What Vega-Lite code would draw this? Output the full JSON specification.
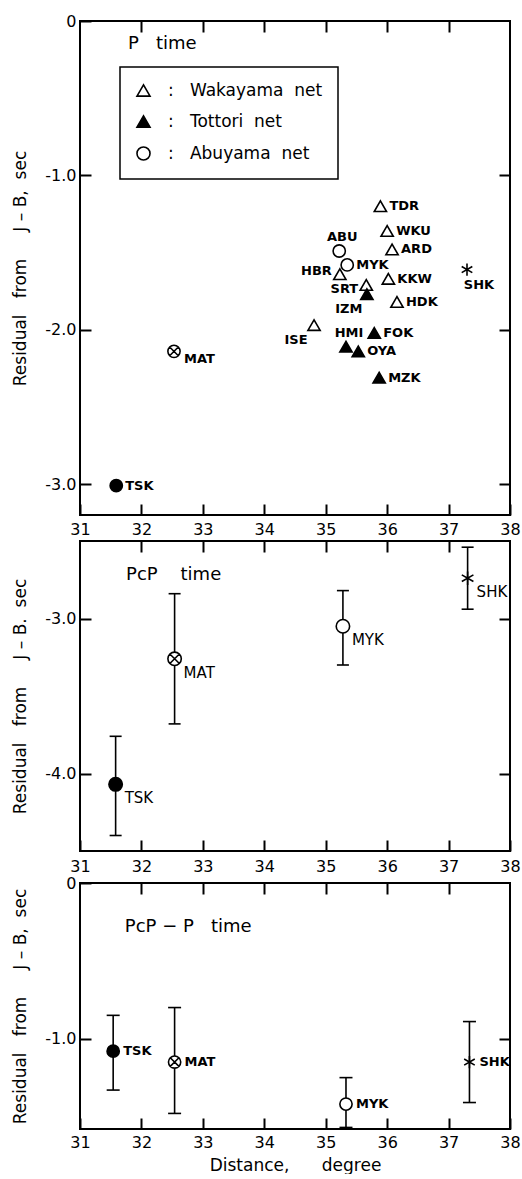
{
  "$schema": "https://vega.github.io/schema/vega-lite/v6.json",
  "padding": {"left": 9, "top": 12, "right": 0, "bottom": 0},
  "bounds": "flush",
  "spacing": 26,
  "resolve": {"scale": {"x": "independent", "y": "independent", "shape": "independent", "fill": "independent"}},
  "datasets": {
    "p": [
      {"station": "TDR", "group": "Wakayama net", "dist": 35.89, "res": -1.20},
      {"station": "WKU", "group": "Wakayama net", "dist": 36.00, "res": -1.36},
      {"station": "ARD", "group": "Wakayama net", "dist": 36.08, "res": -1.48},
      {"station": "KKW", "group": "Wakayama net", "dist": 36.02, "res": -1.67},
      {"station": "HDK", "group": "Wakayama net", "dist": 36.16, "res": -1.82},
      {"station": "HBR", "group": "Wakayama net", "dist": 35.23, "res": -1.64},
      {"station": "SRT", "group": "Wakayama net", "dist": 35.66, "res": -1.71},
      {"station": "ISE", "group": "Wakayama net", "dist": 34.81, "res": -1.97},
      {"station": "IZM", "group": "Tottori net", "dist": 35.67, "res": -1.77},
      {"station": "FOK", "group": "Tottori net", "dist": 35.79, "res": -2.02},
      {"station": "HMI", "group": "Tottori net", "dist": 35.33, "res": -2.11},
      {"station": "OYA", "group": "Tottori net", "dist": 35.53, "res": -2.14},
      {"station": "MZK", "group": "Tottori net", "dist": 35.87, "res": -2.31},
      {"station": "ABU", "group": "Abuyama net", "dist": 35.22, "res": -1.49},
      {"station": "MYK", "group": "Abuyama net", "dist": 35.35, "res": -1.58},
      {"station": "SHK", "group": "SHK", "dist": 37.30, "res": -1.61},
      {"station": "MAT", "group": "MAT", "dist": 32.53, "res": -2.14},
      {"station": "TSK", "group": "TSK", "dist": 31.59, "res": -3.01}
    ],
    "pcp": [
      {"station": "TSK", "group": "TSK", "dist": 31.58, "res": -4.07, "hi": -3.76, "lo": -4.40},
      {"station": "MAT", "group": "MAT", "dist": 32.54, "res": -3.26, "hi": -2.84, "lo": -3.68},
      {"station": "MYK", "group": "Abuyama net", "dist": 35.28, "res": -3.05, "hi": -2.82, "lo": -3.30},
      {"station": "SHK", "group": "SHK", "dist": 37.31, "res": -2.74, "hi": -2.54, "lo": -2.94}
    ],
    "pcpp": [
      {"station": "TSK", "group": "TSK", "dist": 31.54, "res": -1.08, "hi": -0.85, "lo": -1.33},
      {"station": "MAT", "group": "MAT", "dist": 32.54, "res": -1.15, "hi": -0.80, "lo": -1.48},
      {"station": "MYK", "group": "Abuyama net", "dist": 35.33, "res": -1.42, "hi": -1.25, "lo": -1.57},
      {"station": "SHK", "group": "SHK", "dist": 37.34, "res": -1.15, "hi": -0.89, "lo": -1.41}
    ]
  },
  "vconcat": [
    {
      "width": 430,
      "height": 494,
      "data": {"name": "p"},
      "resolve": {"axis": {"x": "independent", "y": "independent"}},
      "encoding": {
        "x": {"field": "dist", "type": "quantitative", "scale": {"domain": [31, 38], "nice": false}, "axis": null},
        "y": {"field": "res", "type": "quantitative", "scale": {"domain": [-3.2, 0], "nice": false}, "axis": null}
      },
      "layer": [
        {
          "mark": {"type": "point", "size": 150, "stroke": "black", "strokeWidth": 1.6, "opacity": 1},
          "encoding": {
            "x": {"field": "dist", "type": "quantitative", "scale": {"domain": [31, 38], "nice": false},
              "axis": {"orient": "bottom", "values": [31, 32, 33, 34, 35, 36, 37, 38], "title": null, "format": "d", "labelPadding": 6}},
            "y": {"field": "res", "type": "quantitative", "scale": {"domain": [-3.2, 0], "nice": false},
              "axis": {"orient": "left", "values": [0, -1, -2, -3], "labelExpr": "datum.value == 0 ? '0' : '-' + format(-datum.value, '.1f')",
                "encode": {"labels": {"update": {"dx": {"signal": "datum.value == 0 ? -6 : 0"}}}},
                "title": "Residual\u00a0\u00a0\u00a0from\u00a0\u00a0\u00a0\u00a0\u00a0J\u00a0–\u00a0B,\u00a0\u00a0sec", "titleX": -71, "titleBaseline": "middle"}},
            "shape": {"field": "group", "type": "nominal",
              "scale": {"domain": ["Wakayama net", "Tottori net", "Abuyama net", "MAT", "TSK", "SHK"],
                "range": ["triangle-up", "triangle-up", "circle", "M1,0A1,1,0,1,1,-1,0A1,1,0,1,1,1,0M-0.707,-0.707L0.707,0.707M-0.707,0.707L0.707,-0.707", "circle", "M0,-1L0,1M-0.866,-0.5L0.866,0.5M-0.866,0.5L0.866,-0.5"]},
              "legend": {"title": null, "orient": "none", "legendX": 40, "legendY": 46, "values": ["Wakayama net", "Tottori net", "Abuyama net"],
                "labelExpr": "':\u00a0\u00a0\u00a0' + replace(datum.label, ' ', '\u00a0\u00a0')", "labelFont": "DejaVu Sans", "labelFontSize": 17, "labelColor": "black",
                "symbolSize": 170, "symbolStrokeColor": "black", "symbolStrokeWidth": 1.6, "symbolOpacity": 1,
                "strokeColor": "black", "padding": 15, "rowPadding": 12, "labelOffset": 16,
                "encode": {"symbols": {"update": {"stroke": {"value": "black"}, "strokeWidth": {"value": 1.6}, "opacity": {"value": 1}}}}}},
            "fill": {"field": "group", "type": "nominal",
              "scale": {"domain": ["Wakayama net", "Tottori net", "Abuyama net", "MAT", "TSK", "SHK"],
                "range": ["white", "black", "white", "white", "black", "transparent"]},
              "legend": {"title": null, "orient": "none", "legendX": 40, "legendY": 46, "values": ["Wakayama net", "Tottori net", "Abuyama net"],
                "labelExpr": "':\u00a0\u00a0\u00a0' + replace(datum.label, ' ', '\u00a0\u00a0')", "labelFont": "DejaVu Sans", "labelFontSize": 17, "labelColor": "black",
                "symbolSize": 170, "symbolStrokeColor": "black", "symbolStrokeWidth": 1.6, "symbolOpacity": 1,
                "strokeColor": "black", "padding": 15, "rowPadding": 12, "labelOffset": 16,
                "encode": {"symbols": {"update": {"stroke": {"value": "black"}, "strokeWidth": {"value": 1.6}, "opacity": {"value": 1}}}}}}
          }
        },
        {
          "mark": {"type": "point", "opacity": 0},
          "encoding": {
            "x": {"field": "dist", "type": "quantitative", "scale": {"domain": [31, 38], "nice": false},
              "axis": {"orient": "top", "values": [32, 33, 34, 35, 36, 37], "labels": false, "title": null}},
            "y": {"field": "res", "type": "quantitative", "scale": {"domain": [-3.2, 0], "nice": false},
              "axis": {"orient": "right", "values": [-1, -2, -3], "labels": false, "title": null}}
          }
        },
        {
          "transform": [{"filter": "indexof(['TDR','WKU','ARD','KKW','HDK','FOK','OYA','MZK','MYK','TSK'], datum.station) >= 0"}],
          "mark": {"type": "text", "align": "left", "baseline": "middle", "dx": 9, "fontSize": 13, "fontWeight": "bold"},
          "encoding": {"text": {"field": "station"}}
        },
        {
          "transform": [{"filter": "datum.station == 'MAT'"}],
          "mark": {"type": "text", "align": "left", "baseline": "middle", "dx": 10, "dy": 8, "fontSize": 13, "fontWeight": "bold"},
          "encoding": {"text": {"field": "station"}}
        },
        {
          "transform": [{"filter": "datum.station == 'HBR'"}],
          "mark": {"type": "text", "align": "right", "baseline": "middle", "dx": -8, "dy": -3, "fontSize": 13, "fontWeight": "bold"},
          "encoding": {"text": {"field": "station"}}
        },
        {
          "transform": [{"filter": "datum.station == 'SRT'"}],
          "mark": {"type": "text", "align": "right", "baseline": "middle", "dx": -8, "dy": 4, "fontSize": 13, "fontWeight": "bold"},
          "encoding": {"text": {"field": "station"}}
        },
        {
          "transform": [{"filter": "datum.station == 'ABU' || datum.station == 'HMI'"}],
          "mark": {"type": "text", "align": "center", "baseline": "middle", "dx": 3, "dy": -14, "fontSize": 13, "fontWeight": "bold"},
          "encoding": {"text": {"field": "station"}}
        },
        {
          "transform": [{"filter": "datum.station == 'IZM' || datum.station == 'ISE'"}],
          "mark": {"type": "text", "align": "center", "baseline": "middle", "dx": -18, "dy": 15, "fontSize": 13, "fontWeight": "bold"},
          "encoding": {"text": {"field": "station"}}
        },
        {
          "transform": [{"filter": "datum.station == 'SHK'"}],
          "mark": {"type": "text", "align": "center", "baseline": "middle", "dx": 12, "dy": 15, "fontSize": 13, "fontWeight": "bold"},
          "encoding": {"text": {"field": "station"}}
        },
        {
          "transform": [{"filter": "datum.station == 'TSK'"}],
          "mark": {"type": "text", "text": "P\u00a0\u00a0\u00a0time", "align": "left", "baseline": "middle", "fontSize": 18},
          "encoding": {"x": {"datum": 31.78, "type": "quantitative", "axis": null}, "y": {"datum": -0.15, "type": "quantitative", "axis": null}}
        }
      ]
    },
    {
      "bounds": "flush",
      "spacing": 32,
      "resolve": {"scale": {"x": "independent", "y": "independent", "shape": "independent", "fill": "independent"}},
      "vconcat": [
        {
          "width": 430,
          "height": 310,
          "data": {"name": "pcp"},
          "resolve": {"axis": {"x": "independent", "y": "independent"}},
          "encoding": {
            "x": {"field": "dist", "type": "quantitative", "scale": {"domain": [31, 38], "nice": false}, "axis": null},
            "y": {"field": "res", "type": "quantitative", "scale": {"domain": [-4.5, -2.5], "nice": false}, "axis": null}
          },
          "layer": [
            {
              "mark": {"type": "rule", "color": "black", "strokeWidth": 1.6},
              "encoding": {"y": {"field": "lo", "type": "quantitative", "axis": null}, "y2": {"field": "hi"}}
            },
            {
              "mark": {"type": "tick", "orient": "horizontal", "size": 12, "thickness": 1.6, "color": "black", "opacity": 1},
              "encoding": {"y": {"field": "lo", "type": "quantitative", "axis": null}}
            },
            {
              "mark": {"type": "tick", "orient": "horizontal", "size": 12, "thickness": 1.6, "color": "black", "opacity": 1},
              "encoding": {"y": {"field": "hi", "type": "quantitative", "axis": null}}
            },
            {
              "mark": {"type": "point", "size": 180, "stroke": "black", "strokeWidth": 1.6, "opacity": 1},
              "encoding": {
                "x": {"field": "dist", "type": "quantitative", "scale": {"domain": [31, 38], "nice": false},
                  "axis": {"orient": "bottom", "values": [31, 32, 33, 34, 35, 36, 37, 38], "title": null, "format": "d", "labelPadding": 7}},
                "y": {"field": "res", "type": "quantitative", "scale": {"domain": [-4.5, -2.5], "nice": false},
                  "axis": {"orient": "left", "values": [-3, -4], "labelExpr": "'-' + format(-datum.value, '.1f')",
                    "title": "Residual\u00a0\u00a0\u00a0from\u00a0\u00a0\u00a0\u00a0\u00a0J\u00a0–\u00a0B.\u00a0\u00a0sec", "titleX": -71, "titleBaseline": "middle"}},
                "shape": {"field": "group", "type": "nominal",
                  "scale": {"domain": ["Wakayama net", "Tottori net", "Abuyama net", "MAT", "TSK", "SHK"],
                    "range": ["triangle-up", "triangle-up", "circle", "M1,0A1,1,0,1,1,-1,0A1,1,0,1,1,1,0M-0.707,-0.707L0.707,0.707M-0.707,0.707L0.707,-0.707", "circle", "M0,-1L0,1M-0.866,-0.5L0.866,0.5M-0.866,0.5L0.866,-0.5"]},
                  "legend": null},
                "fill": {"field": "group", "type": "nominal",
                  "scale": {"domain": ["Wakayama net", "Tottori net", "Abuyama net", "MAT", "TSK", "SHK"],
                    "range": ["white", "black", "white", "white", "black", "transparent"]},
                  "legend": null}
              }
            },
            {
              "mark": {"type": "point", "opacity": 0},
              "encoding": {
                "x": {"field": "dist", "type": "quantitative", "scale": {"domain": [31, 38], "nice": false},
                  "axis": {"orient": "top", "values": [32, 33, 34, 35, 36, 37], "labels": false, "title": null}},
                "y": {"field": "res", "type": "quantitative", "scale": {"domain": [-4.5, -2.5], "nice": false},
                  "axis": {"orient": "right", "values": [-3, -4], "labels": false, "title": null}}
              }
            },
            {
              "mark": {"type": "text", "align": "left", "baseline": "middle", "dx": 9, "dy": 14, "fontSize": 15},
              "encoding": {"text": {"field": "station"}}
            },
            {
              "transform": [{"filter": "datum.station == 'TSK'"}],
              "mark": {"type": "text", "text": "PcP\u00a0\u00a0\u00a0\u00a0time", "align": "left", "baseline": "middle", "fontSize": 18},
              "encoding": {"x": {"datum": 31.75, "type": "quantitative", "axis": null}, "y": {"datum": -2.72, "type": "quantitative", "axis": null}}
            }
          ]
        },
        {
          "width": 430,
          "height": 246,
          "data": {"name": "pcpp"},
          "resolve": {"axis": {"x": "independent", "y": "independent"}},
          "encoding": {
            "x": {"field": "dist", "type": "quantitative", "scale": {"domain": [31, 38], "nice": false}, "axis": null},
            "y": {"field": "res", "type": "quantitative", "scale": {"domain": [-1.58, 0], "nice": false}, "axis": null}
          },
          "layer": [
            {
              "mark": {"type": "rule", "color": "black", "strokeWidth": 1.6},
              "encoding": {"y": {"field": "lo", "type": "quantitative", "axis": null}, "y2": {"field": "hi"}}
            },
            {
              "mark": {"type": "tick", "orient": "horizontal", "size": 13, "thickness": 1.6, "color": "black", "opacity": 1},
              "encoding": {"y": {"field": "lo", "type": "quantitative", "axis": null}}
            },
            {
              "mark": {"type": "tick", "orient": "horizontal", "size": 13, "thickness": 1.6, "color": "black", "opacity": 1},
              "encoding": {"y": {"field": "hi", "type": "quantitative", "axis": null}}
            },
            {
              "mark": {"type": "point", "size": 150, "stroke": "black", "strokeWidth": 1.6, "opacity": 1},
              "encoding": {
                "x": {"field": "dist", "type": "quantitative", "scale": {"domain": [31, 38], "nice": false},
                  "axis": {"orient": "bottom", "values": [31, 32, 33, 34, 35, 36, 37, 38], "title": "Distance,\u00a0\u00a0\u00a0\u00a0\u00a0\u00a0degree", "format": "d", "labelPadding": 5, "titleFontSize": 17, "titlePadding": 7}},
                "y": {"field": "res", "type": "quantitative", "scale": {"domain": [-1.58, 0], "nice": false},
                  "axis": {"orient": "left", "values": [0, -1], "labelExpr": "datum.value == 0 ? '0' : '-' + format(-datum.value, '.1f')",
                    "encode": {"labels": {"update": {"dx": {"signal": "datum.value == 0 ? -6 : 0"}}}},
                    "title": "Residual\u00a0\u00a0\u00a0from\u00a0\u00a0\u00a0\u00a0\u00a0J\u00a0–\u00a0B,\u00a0\u00a0sec", "titleX": -71, "titleBaseline": "middle"}},
                "shape": {"field": "group", "type": "nominal",
                  "scale": {"domain": ["Wakayama net", "Tottori net", "Abuyama net", "MAT", "TSK", "SHK"],
                    "range": ["triangle-up", "triangle-up", "circle", "M1,0A1,1,0,1,1,-1,0A1,1,0,1,1,1,0M-0.707,-0.707L0.707,0.707M-0.707,0.707L0.707,-0.707", "circle", "M0,-1L0,1M-0.866,-0.5L0.866,0.5M-0.866,0.5L0.866,-0.5"]},
                  "legend": null},
                "fill": {"field": "group", "type": "nominal",
                  "scale": {"domain": ["Wakayama net", "Tottori net", "Abuyama net", "MAT", "TSK", "SHK"],
                    "range": ["white", "black", "white", "white", "black", "transparent"]},
                  "legend": null}
              }
            },
            {
              "mark": {"type": "point", "opacity": 0},
              "encoding": {
                "x": {"field": "dist", "type": "quantitative", "scale": {"domain": [31, 38], "nice": false},
                  "axis": {"orient": "top", "values": [32, 33, 34, 35, 36, 37], "labels": false, "title": null}},
                "y": {"field": "res", "type": "quantitative", "scale": {"domain": [-1.58, 0], "nice": false},
                  "axis": {"orient": "right", "values": [-1], "labels": false, "title": null}}
              }
            },
            {
              "mark": {"type": "text", "align": "left", "baseline": "middle", "dx": 10, "fontSize": 13, "fontWeight": "bold"},
              "encoding": {"text": {"field": "station"}}
            },
            {
              "transform": [{"filter": "datum.station == 'TSK'"}],
              "mark": {"type": "text", "text": "PcP − P\u00a0\u00a0\u00a0time", "align": "left", "baseline": "middle", "fontSize": 18},
              "encoding": {"x": {"datum": 31.73, "type": "quantitative", "axis": null}, "y": {"datum": -0.28, "type": "quantitative", "axis": null}}
            }
          ]
        }
      ]
    }
  ],
  "config": {
    "view": {"stroke": "black", "strokeWidth": 2},
    "axis": {"domain": false, "grid": false, "tickSize": 11, "offset": -11, "tickWidth": 2, "tickColor": "black",
      "labelPadding": 4, "labelFont": "DejaVu Sans", "labelFontSize": 16, "labelColor": "black",
      "labelFlush": false, "labelOverlap": false,
      "titleFont": "DejaVu Sans", "titleFontSize": 17, "titleFontWeight": "normal", "titleColor": "black"},
    "text": {"font": "DejaVu Sans", "color": "black"},
    "legend": {"strokeWidth": 1.5}
  }
}
